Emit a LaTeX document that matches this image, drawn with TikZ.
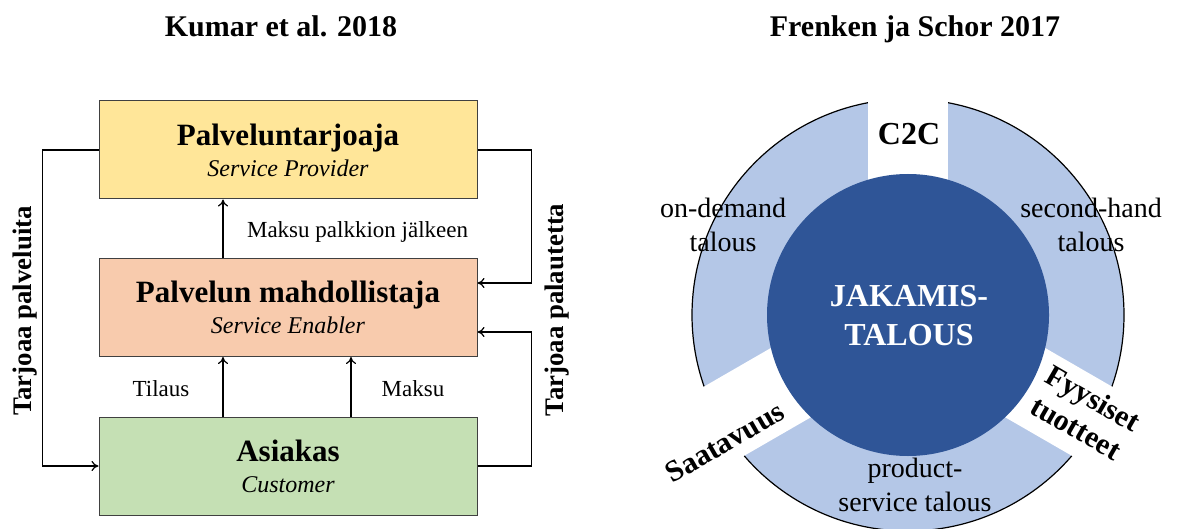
\documentclass[tikz,border=0pt]{standalone}
\usepackage{fontspec}
\setmainfont{Liberation Serif}
\usetikzlibrary{arrows.meta}
\definecolor{provider-color}{RGB}{255,230,153}
\definecolor{enabler-color}{RGB}{248,203,173}
\definecolor{customer-color}{RGB}{197,224,180}
\definecolor{ring-color}{RGB}{180,199,231}
\definecolor{core-color}{RGB}{47,85,151}
\definecolor{edge-color}{RGB}{64,64,64}

\begin{document}
\begin{tikzpicture}[x=0.5pt,y=-0.5pt,
    box/.style={draw=edge-color, line width=0.5pt, minimum width=189pt, minimum height=49pt,
        align=center, inner sep=0pt, font=\fontsize{12}{15.5}\selectfont},
    flow/.style={-{To[length=3.5pt,width=5pt]}, line width=0.6pt},
    title/.style={font=\fontsize{15}{18}\selectfont\bfseries},
    lbl/.style={font=\fontsize{11.5}{13}\selectfont},
    side/.style={font=\fontsize{13.4}{16}\selectfont\bfseries, rotate=90},
    ring/.style={font=\fontsize{14}{16.8}\selectfont, align=center},
    gap/.style={font=\fontsize{15}{17}\selectfont\bfseries, align=center}]
    \useasboundingbox (0,0) rectangle (1181,529);

    \node[title,anchor=base] (kumar) at (281,37) {Kumar et al. 2018};
    \node[title,anchor=base] (frenken) at (915,37) {Frenken ja Schor 2017};

    % Kumar et al.
    \node[box,fill=provider-color] (provider) at (288,150)
        {{\fontsize{15.5}{18}\selectfont\bfseries Palveluntarjoaja}\\\textit{Service Provider}};
    \node[box,fill=enabler-color] (enabler) at (288,307.5)
        {{\fontsize{15.5}{18}\selectfont\bfseries Palvelun mahdollistaja}\\\textit{Service Enabler}};
    \node[box,fill=customer-color] (customer) at (288,466)
        {{\fontsize{15.5}{18}\selectfont\bfseries Asiakas}\\\textit{Customer}};

    \draw[flow] (provider.west) -- ++(-56,0) |- (customer.west);
    \draw[flow] (provider.east) -- ++(54,0) |- ([yshift=12.25pt]enabler.east);
    \draw[flow] (customer.east) -- ++(54,0) |- ([yshift=-12.25pt]enabler.east);
    \draw[flow] ([xshift=-32.5pt]enabler.north) -- ([xshift=-32.5pt]provider.south);
    \draw[flow] ([xshift=-32.5pt]customer.north) -- ([xshift=-32.5pt]enabler.south);
    \draw[flow] ([xshift=31.5pt]customer.north) -- ([xshift=31.5pt]enabler.south);

    \node[lbl,anchor=base west] (fee) at (240,237) {Maksu palkkion jälkeen};
    \node[lbl,anchor=base] (order) at (161,396) {Tilaus};
    \node[lbl,anchor=base] (payment) at (413,396) {Maksu};
    \node[side] (offer) at (25,311) {Tarjoaa palveluita};
    \node[side] (feedback) at (557,310) {Tarjoaa palautetta};

    % Frenken ja Schor
    \fill[ring-color,draw=black,line width=0.6pt] (908,315) circle (108pt);
    \begin{scope}[shift={(908,315)}]
        \foreach \a in {90,-30,210}
            \fill[white,rotate=\a] (0pt,-20pt) rectangle (115pt,20pt);
    \end{scope}
    \node[circle,fill=core-color,minimum size=141pt,inner sep=0pt] (core) at (908,315) {};

    \node[font=\fontsize{16}{19.5}\selectfont\bfseries, text=white, align=center] (sharing) at (909,316) {JAKAMIS-\\TALOUS};
    \node[ring] (ondemand) at (723,225) {on-demand\\talous};
    \node[ring] (secondhand) at (1091,225) {second-hand\\talous};
    \node[ring] (pss) at (915,485) {product-\\service talous};
    \node[font=\fontsize{16}{19}\selectfont\bfseries] (c2c) at (909,134) {C2C};
    \node[gap,rotate=30] (access) at (725,442) {Saatavuus};
    \node[gap,rotate=-30] (goods) at (1085,413) {Fyysiset\\tuotteet};
\end{tikzpicture}
\end{document}
